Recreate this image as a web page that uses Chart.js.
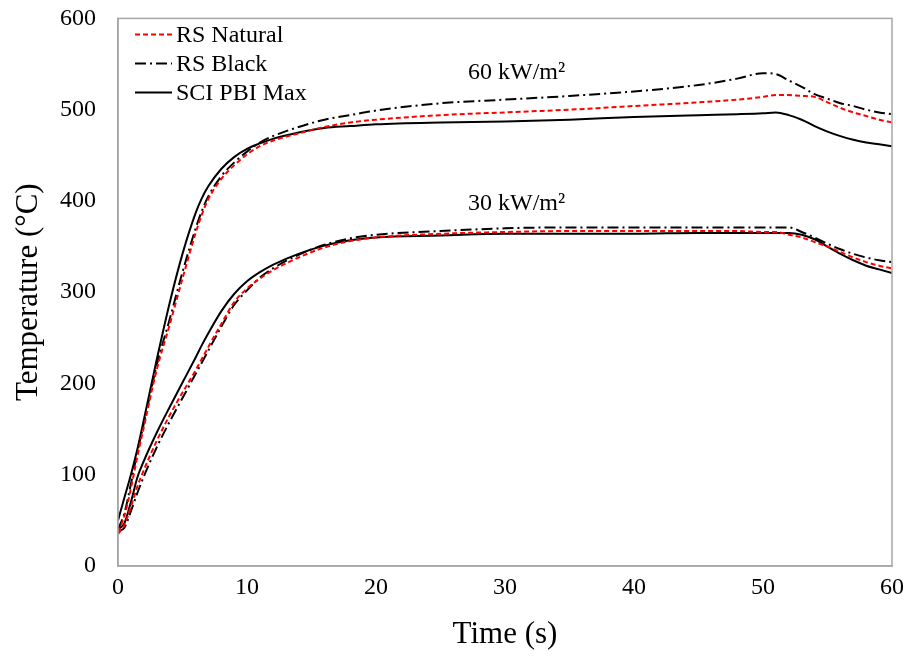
<!DOCTYPE html>
<html>
<head>
<meta charset="utf-8">
<script src="https://cdn.jsdelivr.net/npm/chart.js@4.4.1/dist/chart.umd.min.js"></script>
<style>
  body { margin: 0; background: #fff; }
  #wrap { width: 911px; height: 656px; }
</style>
</head>
<body>
<div id="wrap"><canvas id="tempChart" width="911" height="656"></canvas></div>
<script>
// tiempos de muestreo (s)
const times = [0, 0.5, 1, 1.5, 2, 3, 4, 5, 6, 6.5, 7, 8, 9, 10, 11, 12, 14, 16, 18, 20, 25, 30, 35, 40, 45, 48, 50, 51, 52, 53, 54, 55, 56, 57, 58, 59, 60];

// 60 kW/m2
const natural60 = [37, 55, 85, 120, 152, 215, 264, 315, 364, 385, 402, 424, 439, 451, 460, 466, 474, 481, 486, 489, 494, 497, 500, 504, 508, 511, 514, 516, 516, 515, 514, 508, 502, 497, 493, 489, 486];
const black60 = [40, 58, 90, 125, 156, 220, 270, 322, 369, 389, 405, 427, 442, 454, 464, 471, 481, 489, 494, 499, 507, 511, 515, 520, 527, 534, 540, 539, 532, 525, 517, 512, 507, 504, 500, 497, 495];
const pbi60 = [50, 75, 100, 128, 160, 226, 288, 342, 386, 403, 416, 435, 448, 457, 463, 468, 475, 480, 482, 484, 486, 487, 489, 492, 494, 495, 496, 497, 494, 489, 482, 476, 471, 467, 464, 462, 460];

// 30 kW/m2
const natural30 = [35, 45, 65, 87, 105, 137, 165, 190, 214, 227, 240, 265, 289, 304, 315, 324, 338, 349, 356, 360, 364, 366, 367, 367, 367, 367, 366, 366, 363, 360, 355, 350, 344, 338, 333, 329, 326];
const black30 = [38, 42, 60, 80, 98, 130, 158, 184, 210, 223, 236, 262, 286, 302, 316, 326, 341, 352, 359, 363, 367, 370, 371, 371, 371, 371, 371, 371, 371, 366, 360, 353, 347, 342, 338, 335, 333];
const pbi30 = [40, 47, 70, 97, 115, 146, 174, 201, 228, 242, 255, 279, 298, 312, 322, 330, 342, 351, 357, 360, 362, 364, 364, 364, 365, 365, 365, 365, 365, 363, 358, 350, 342, 335, 329, 325, 321];

const seriesLabels = ['RS Natural', 'RS Black', 'SCI PBI Max'];
const fluxLabels = ['60 kW/m²', '30 kW/m²'];

const FONT = '"Liberation Serif", "DejaVu Serif", serif';

const styles = [
  { color: '#ff0000', dash: [5, 3] },
  { color: '#000000', dash: [11, 4, 2, 4] },
  { color: '#000000', dash: [] }
];

const toPoints = arr => arr.map((v, i) => ({ x: times[i], y: v }));

const makeSet = (label, data, st) => ({
  label,
  data: toPoints(data),
  borderColor: st.color,
  borderDash: st.dash,
  borderWidth: 2,
  pointRadius: 0,
  fill: false,
  cubicInterpolationMode: 'monotone'
});

const datasets = [
  makeSet(seriesLabels[0], natural60, styles[0]),
  makeSet(seriesLabels[1], black60, styles[1]),
  makeSet(seriesLabels[2], pbi60, styles[2]),
  makeSet(seriesLabels[0], natural30, styles[0]),
  makeSet(seriesLabels[1], black30, styles[1]),
  makeSet(seriesLabels[2], pbi30, styles[2])
];

// leyenda, recuadro y etiquetas dentro del gráfico
const extras = {
  id: 'extras',
  afterDraw(chart) {
    const { ctx, chartArea: a, scales } = chart;
    ctx.save();
    ctx.strokeStyle = '#a6a6a6';
    ctx.lineWidth = 1.5;
    ctx.strokeRect(a.left, a.top, a.right - a.left, a.bottom - a.top);

    ctx.font = '24px ' + FONT;
    ctx.fillStyle = '#000';
    ctx.textBaseline = 'middle';
    ctx.textAlign = 'left';
    seriesLabels.forEach((lbl, i) => {
      const y = a.top + 16 + i * 29;
      ctx.strokeStyle = styles[i].color;
      ctx.setLineDash(styles[i].dash);
      ctx.lineWidth = 2;
      ctx.beginPath();
      ctx.moveTo(a.left + 17, y);
      ctx.lineTo(a.left + 54, y);
      ctx.stroke();
      ctx.setLineDash([]);
      ctx.fillText(lbl, a.left + 58, y + 1);
    });

    ctx.textAlign = 'center';
    ctx.fillText(fluxLabels[0], scales.x.getPixelForValue(30.9), scales.y.getPixelForValue(541));
    ctx.fillText(fluxLabels[1], scales.x.getPixelForValue(30.9), scales.y.getPixelForValue(397));
    ctx.restore();
  }
};

new Chart(document.getElementById('tempChart'), {
  type: 'line',
  data: { datasets },
  options: {
    responsive: false,
    animation: false,
    layout: { padding: { top: 18, right: 19, left: 0, bottom: 0 } },
    plugins: {
      legend: { display: false },
      tooltip: { enabled: false }
    },
    scales: {
      x: {
        type: 'linear',
        min: 0,
        max: 60,
        ticks: { stepSize: 10, color: '#000', font: { family: FONT, size: 24 }, padding: 7 },
        grid: { display: false, drawTicks: false },
        border: { color: '#a6a6a6', width: 1.5 },
        title: { display: true, text: 'Time (s)', color: '#000', font: { family: FONT, size: 31 }, padding: { top: 2, bottom: 3 } },
        afterFit: s => { s.height = 90; }
      },
      y: {
        min: 0,
        max: 600,
        ticks: {
          stepSize: 100,
          color: '#000',
          font: { family: FONT, size: 24 },
          padding: 4,
          // espacios finales para separar las etiquetas del eje
          callback: v => v + '   '
        },
        grid: { display: false, drawTicks: false },
        border: { color: '#a6a6a6', width: 1.5 },
        title: { display: true, text: 'Temperature (°C)', color: '#000', font: { family: FONT, size: 31 }, padding: { top: 10, bottom: 10 } },
        afterFit: s => { s.width = 118; }
      }
    }
  },
  plugins: [extras]
});
</script>
</body>
</html>
